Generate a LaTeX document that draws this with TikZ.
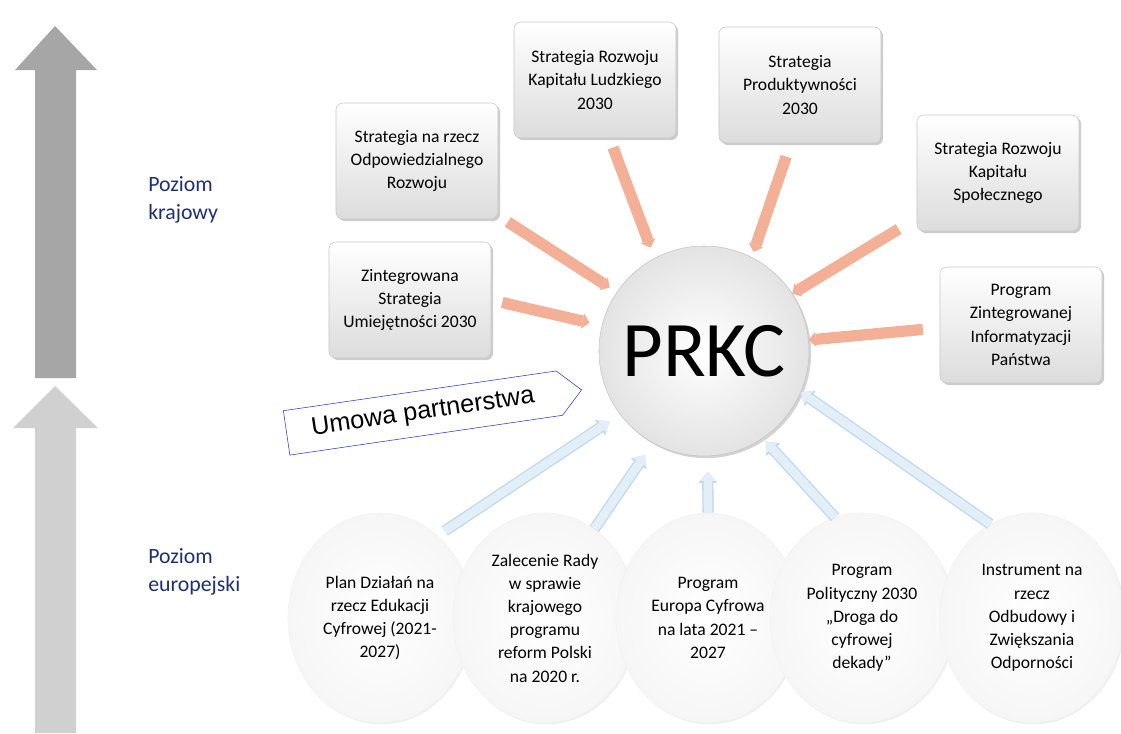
\documentclass[tikz,border=0pt]{standalone}
\usepackage{fontspec}
\setmainfont{Carlito}
\newfontfamily\arialfont{Liberation Sans}
\usetikzlibrary{arrows.meta,shadows,shapes.geometric,shapes.symbols}
\definecolor{navy}{RGB}{31,48,110}
\definecolor{lvlnat}{RGB}{166,166,166}
\definecolor{lvleu}{RGB}{208,208,208}
\definecolor{boxbot}{RGB}{220,220,220}
\definecolor{boxedge}{RGB}{200,200,200}
\definecolor{salmon}{RGB}{243,176,150}
\definecolor{eufill}{RGB}{226,238,248}
\definecolor{euedge}{RGB}{195,218,236}
\definecolor{umowaline}{RGB}{45,65,190}
\tikzstyle{level}=[anchor=west, inner sep=0pt, align=left, text=navy, font=\fontsize{15.5}{20}\selectfont]
\tikzstyle{strat}=[draw=boxedge, rounded corners=5pt, top color=white, bottom color=boxbot, minimum width=4.05cm, minimum height=2.9cm, align=center, font=\fontsize{12.5}{16.5}\selectfont, drop shadow={shadow xshift=1.5pt, shadow yshift=-1.5pt, opacity=0.4}]
\tikzstyle{hub}=[circle, draw=gray!45, inner color=white, outer color=gray!22, minimum size=5.25cm, font=\fontsize{56}{60}\selectfont, drop shadow={shadow xshift=1.5pt, shadow yshift=-1.5pt, opacity=0.35}]
\tikzstyle{eu}=[ellipse, draw=gray!10, inner color=white, outer color=gray!7, minimum width=4.6cm, minimum height=5.25cm, align=center, font=\fontsize{12.5}{16.5}\selectfont, drop shadow={shadow xshift=1pt, shadow yshift=-1pt, opacity=0.12}]
\tikzstyle{umowa}=[signal, signal to=east, signal from=nowhere, draw=umowaline, fill=white, minimum width=7.45cm, minimum height=1.12cm, rotate=8.3, font=\arialfont\fontsize{18}{21}\selectfont]
\tikzstyle{feed}=[color=salmon, line width=8pt, -{Triangle[length=5pt,width=11pt,line width=0pt]}]
\tikzstyle{feedeu}=[preaction={draw=euedge, line width=8pt, -{Triangle[length=8pt,width=13.5pt,line width=0pt]}}, draw=eufill, line width=6pt, -{Triangle[length=6.5pt,width=11pt,line width=0pt]}]

\begin{document}
\begin{tikzpicture}[x=0.025cm,y=-0.025cm]
\useasboundingbox (0,0) rectangle (1121,733);
% levels
\fill[lvlnat] (55,26) -- (97,70) -- (76,70) -- (76,378) -- (35,378) -- (35,70) -- (15,70) -- cycle;
\fill[lvleu] (55,386) -- (98,428) -- (76,428) -- (76,733) -- (35,733) -- (35,428) -- (13,428) -- cycle;
\node[level] (krajowy) at (148,200) {Poziom\\krajowy};
\node[level] (europejski) at (148,572) {Poziom\\europejski};
% national strategies
\node[strat] (srkl) at (595,80) {Strategia Rozwoju\\Kapitału Ludzkiego\\2030};
\node[strat] (sor) at (417,161) {Strategia na rzecz\\Odpowiedzialnego\\Rozwoju};
\node[strat] (zsu) at (410,300) {Zintegrowana\\Strategia\\Umiejętności 2030};
\node[strat] (sp) at (800,85) {Strategia\\Produktywności\\2030};
\node[strat] (srks) at (998,173) {Strategia Rozwoju\\Kapitału\\Społecznego};
\node[strat] (pzip) at (1021,325) {Program\\Zintegrowanej\\Informatyzacji\\Państwa};
\node[hub] (prkc) at (704,351) {PRKC};
% european programmes
\node[eu] (plan) at (380,618) {Plan Działań na\\rzecz Edukacji\\Cyfrowej (2021-\\2027)};
\node[eu] (zalec) at (545,618) {Zalecenie Rady\\w sprawie\\krajowego\\programu\\reform Polski\\na 2020 r.};
\node[eu] (europa) at (708,618) {Program\\Europa Cyfrowa\\na lata 2021 –\\2027};
\node[eu] (polit) at (862,618) {Program\\Polityczny 2030\\„Droga do\\cyfrowej\\dekady”};
\node[eu] (instr) at (1032,618) {Instrument na\\rzecz\\Odbudowy i\\Zwiększania\\Odporności};
\node[umowa] (umowa) at (423,413) {Umowa partnerstwa};
% connectors
\path[feed]
  (srkl.-76) edge[shorten <=7pt, shorten >=8pt] (prkc.118)
  (sor.-34) edge[shorten <=8pt, shorten >=6pt] (prkc.146)
  (zsu.0) edge[shorten <=8pt, shorten >=9pt] (prkc.166)
  (sp.-99) edge[shorten <=10pt, shorten >=4pt] (prkc.63)
  (srks.209) edge[shorten <=15pt] (prkc.33)
  (pzip.182) edge[shorten <=12pt] (prkc.6);
\draw[feedeu, shorten <=6pt, shorten >=9pt] (plan.55) -- (prkc.217);
\draw[feedeu, shorten >=10pt] (zalec.61) -- (prkc.241);
\draw[feedeu, shorten >=11pt] (europa.90) -- (prkc.272);
\draw[feedeu, shorten >=3pt] (polit.105) -- (prkc.304);
\draw[feedeu] (instr.114) -- (prkc.337);
\end{tikzpicture}
\end{document}
